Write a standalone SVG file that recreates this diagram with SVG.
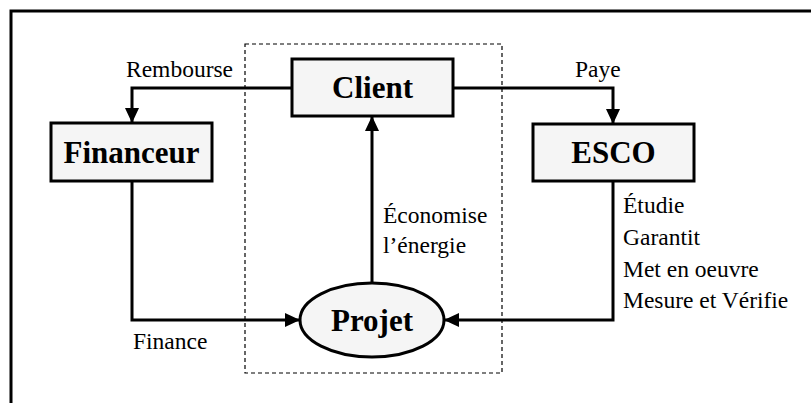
<svg xmlns="http://www.w3.org/2000/svg" width="811" height="403" viewBox="0 0 811 403">
<style>
.box{fill:#f5f5f5;stroke:#000;stroke-width:3}
.title{font-family:"Liberation Serif",serif;font-weight:bold;font-size:31px;text-anchor:middle;fill:#000}
.lbl{font-family:"Liberation Serif",serif;font-size:23.5px;fill:#000}
.conn{fill:none;stroke:#000;stroke-width:3;marker-end:url(#ah)}
</style>
<defs>
<marker id="ah" viewBox="0 0 15 14" refX="15" refY="7" markerWidth="15" markerHeight="14" markerUnits="userSpaceOnUse" orient="auto">
<path d="M0,0 L15,7 L0,14 z" fill="#000"/>
</marker>
</defs>
<rect width="811" height="403" fill="#fff"/>
<path d="M11,403 V11 H811" fill="none" stroke="#000" stroke-width="3"/>
<rect x="245" y="44" width="257" height="329" fill="none" stroke="#000" stroke-width="1.2" stroke-dasharray="4,3"/>
<g id="connectors">
<path class="conn" d="M292,88 H132 V123"/>
<path class="conn" d="M453,88 H613 V124"/>
<path class="conn" d="M372,283 V116"/>
<path class="conn" d="M132,181 V320 H300"/>
<path class="conn" d="M613,181 V320 H444"/>
<text class="lbl" x="126" y="77">Rembourse</text>
<text class="lbl" x="575" y="77">Paye</text>
<text class="lbl" x="133" y="349">Finance</text>
<text class="lbl" x="383" y="223">Économise</text>
<text class="lbl" x="383" y="253">l’énergie</text>
<text class="lbl" x="623" y="213">Étudie</text>
<text class="lbl" x="623" y="245">Garantit</text>
<text class="lbl" x="623" y="277">Met en oeuvre</text>
<text class="lbl" x="623" y="308">Mesure et Vérifie</text>
</g>
<g id="client">
<rect class="box" x="292" y="59" width="161" height="57"/>
<text class="title" x="372.5" y="98">Client</text>
</g>
<g id="financeur">
<rect class="box" x="51" y="123" width="161" height="58"/>
<text class="title" x="131.5" y="163">Financeur</text>
</g>
<g id="esco">
<rect class="box" x="533" y="124" width="161" height="57"/>
<text class="title" x="613.5" y="163">ESCO</text>
</g>
<g id="projet">
<ellipse class="box" cx="372" cy="320" rx="72" ry="37"/>
<text class="title" x="372" y="331">Projet</text>
</g>
</svg>
